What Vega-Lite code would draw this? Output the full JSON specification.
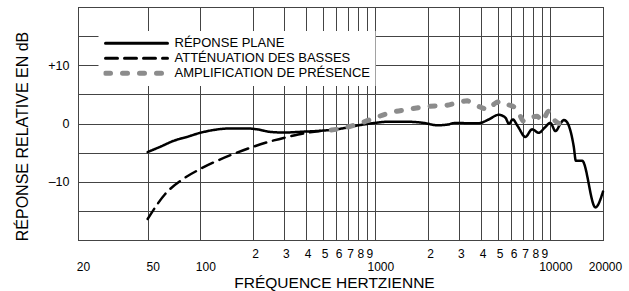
{
  "$schema": "https://vega.github.io/schema/vega-lite/v6.json",
  "width": 525,
  "height": 233,
  "autosize": {"type": "none"},
  "padding": {"left": 78, "top": 7, "right": 26, "bottom": 51},
  "background": "white",
  "config": {"view": {"stroke": "#000", "strokeWidth": 1}, "font": "Liberation Sans"},
  "data": {"values": [
    {"s": "RÉPONSE PLANE", "f": 50, "db": -4.9},
    {"s": "RÉPONSE PLANE", "f": 60, "db": -3.9},
    {"s": "RÉPONSE PLANE", "f": 70, "db": -3.0},
    {"s": "RÉPONSE PLANE", "f": 84, "db": -2.3},
    {"s": "RÉPONSE PLANE", "f": 100, "db": -1.6},
    {"s": "RÉPONSE PLANE", "f": 120, "db": -1.1},
    {"s": "RÉPONSE PLANE", "f": 148, "db": -0.85},
    {"s": "RÉPONSE PLANE", "f": 185, "db": -0.85},
    {"s": "RÉPONSE PLANE", "f": 211, "db": -1.0},
    {"s": "RÉPONSE PLANE", "f": 252, "db": -1.45},
    {"s": "RÉPONSE PLANE", "f": 300, "db": -1.55},
    {"s": "RÉPONSE PLANE", "f": 390, "db": -1.4},
    {"s": "RÉPONSE PLANE", "f": 485, "db": -1.25},
    {"s": "RÉPONSE PLANE", "f": 632, "db": -0.9},
    {"s": "RÉPONSE PLANE", "f": 787, "db": -0.35},
    {"s": "RÉPONSE PLANE", "f": 1000, "db": 0.1},
    {"s": "RÉPONSE PLANE", "f": 1170, "db": 0.3},
    {"s": "RÉPONSE PLANE", "f": 1520, "db": 0.3},
    {"s": "RÉPONSE PLANE", "f": 1890, "db": 0.1},
    {"s": "RÉPONSE PLANE", "f": 2250, "db": -0.3},
    {"s": "RÉPONSE PLANE", "f": 2570, "db": -0.2},
    {"s": "RÉPONSE PLANE", "f": 2870, "db": 0.1},
    {"s": "RÉPONSE PLANE", "f": 3400, "db": 0.05},
    {"s": "RÉPONSE PLANE", "f": 3900, "db": 0.05},
    {"s": "RÉPONSE PLANE", "f": 4450, "db": 0.7},
    {"s": "RÉPONSE PLANE", "f": 5070, "db": 1.5},
    {"s": "RÉPONSE PLANE", "f": 5540, "db": 1.0},
    {"s": "RÉPONSE PLANE", "f": 5800, "db": -0.05},
    {"s": "RÉPONSE PLANE", "f": 6100, "db": 0.7},
    {"s": "RÉPONSE PLANE", "f": 6510, "db": -0.45},
    {"s": "RÉPONSE PLANE", "f": 7200, "db": -2.3},
    {"s": "RÉPONSE PLANE", "f": 7870, "db": -1.0},
    {"s": "RÉPONSE PLANE", "f": 8580, "db": -1.6},
    {"s": "RÉPONSE PLANE", "f": 9300, "db": -0.7},
    {"s": "RÉPONSE PLANE", "f": 10000, "db": 0.1},
    {"s": "RÉPONSE PLANE", "f": 10700, "db": -1.3},
    {"s": "RÉPONSE PLANE", "f": 11500, "db": 0.1},
    {"s": "RÉPONSE PLANE", "f": 11930, "db": 0.6},
    {"s": "RÉPONSE PLANE", "f": 12470, "db": 0.2},
    {"s": "RÉPONSE PLANE", "f": 13600, "db": -3.9},
    {"s": "RÉPONSE PLANE", "f": 14000, "db": -6.4},
    {"s": "RÉPONSE PLANE", "f": 15200, "db": -6.4},
    {"s": "RÉPONSE PLANE", "f": 18100, "db": -14.4},
    {"s": "RÉPONSE PLANE", "f": 20000, "db": -11.7},
    {"s": "ATTÉNUATION DES BASSES", "f": 50, "db": -16.4},
    {"s": "ATTÉNUATION DES BASSES", "f": 63, "db": -12.1},
    {"s": "ATTÉNUATION DES BASSES", "f": 80, "db": -9.5},
    {"s": "ATTÉNUATION DES BASSES", "f": 100, "db": -7.8},
    {"s": "ATTÉNUATION DES BASSES", "f": 125, "db": -6.4},
    {"s": "ATTÉNUATION DES BASSES", "f": 162, "db": -5.0},
    {"s": "ATTÉNUATION DES BASSES", "f": 200, "db": -4.0},
    {"s": "ATTÉNUATION DES BASSES", "f": 263, "db": -2.9},
    {"s": "ATTÉNUATION DES BASSES", "f": 327, "db": -2.2},
    {"s": "ATTÉNUATION DES BASSES", "f": 408, "db": -1.6},
    {"s": "ATTÉNUATION DES BASSES", "f": 485, "db": -1.3},
    {"s": "AMPLIFICATION DE PRÉSENCE", "f": 560, "db": -1.1},
    {"s": "AMPLIFICATION DE PRÉSENCE", "f": 632, "db": -0.9},
    {"s": "AMPLIFICATION DE PRÉSENCE", "f": 803, "db": -0.05},
    {"s": "AMPLIFICATION DE PRÉSENCE", "f": 1000, "db": 1.0},
    {"s": "AMPLIFICATION DE PRÉSENCE", "f": 1274, "db": 2.0},
    {"s": "AMPLIFICATION DE PRÉSENCE", "f": 1519, "db": 2.4},
    {"s": "AMPLIFICATION DE PRÉSENCE", "f": 1850, "db": 2.8},
    {"s": "AMPLIFICATION DE PRÉSENCE", "f": 2026, "db": 2.95},
    {"s": "AMPLIFICATION DE PRÉSENCE", "f": 2510, "db": 3.1},
    {"s": "AMPLIFICATION DE PRÉSENCE", "f": 3062, "db": 3.7},
    {"s": "AMPLIFICATION DE PRÉSENCE", "f": 3350, "db": 3.9},
    {"s": "AMPLIFICATION DE PRÉSENCE", "f": 3494, "db": 3.6},
    {"s": "AMPLIFICATION DE PRÉSENCE", "f": 4074, "db": 2.7},
    {"s": "AMPLIFICATION DE PRÉSENCE", "f": 4380, "db": 2.4},
    {"s": "AMPLIFICATION DE PRÉSENCE", "f": 4854, "db": 3.5},
    {"s": "AMPLIFICATION DE PRÉSENCE", "f": 5300, "db": 3.8},
    {"s": "AMPLIFICATION DE PRÉSENCE", "f": 5780, "db": 3.2},
    {"s": "AMPLIFICATION DE PRÉSENCE", "f": 6290, "db": 2.7},
    {"s": "AMPLIFICATION DE PRÉSENCE", "f": 6560, "db": 2.0},
    {"s": "AMPLIFICATION DE PRÉSENCE", "f": 7045, "db": 0.4},
    {"s": "AMPLIFICATION DE PRÉSENCE", "f": 7700, "db": 1.0},
    {"s": "AMPLIFICATION DE PRÉSENCE", "f": 8400, "db": 1.25},
    {"s": "AMPLIFICATION DE PRÉSENCE", "f": 8960, "db": 0.4},
    {"s": "AMPLIFICATION DE PRÉSENCE", "f": 9790, "db": 2.1},
    {"s": "AMPLIFICATION DE PRÉSENCE", "f": 10690, "db": 0.4},
    {"s": "AMPLIFICATION DE PRÉSENCE", "f": 11200, "db": 0.0}
  ]},
  "encoding": {
    "x": {
      "field": "f", "type": "quantitative",
      "scale": {"type": "log", "domain": [20, 20000], "nice": false},
      "axis": {
        "values": [20, 50, 100, 200, 300, 400, 500, 600, 700, 800, 900, 1000, 2000, 3000, 4000, 5000, 6000, 7000, 8000, 9000, 10000, 20000],
        "labelExpr": "(datum.value < 150 || datum.value == 1000 || datum.value >= 10000) ? ('' + datum.value) : ('' + (datum.value < 1000 ? datum.value / 100 : datum.value / 1000))",
        "labelPadding": {"condition": {"test": "datum.value < 150 || datum.value == 1000 || datum.value >= 10000", "value": 21}, "value": 8},
        "labelOffset": {"condition": {"test": "datum.value < 150 || datum.value == 1000 || datum.value == 10000", "value": 5}, "value": 2},
        "ticks": false, "domain": false, "grid": true, "gridColor": "#444", "gridWidth": 1,
        "labelFontSize": 12, "labelColor": "#000", "labelOverlap": false, "labelBound": false, "labelFlush": false,
        "title": "FRÉQUENCE HERTZIENNE", "titleFontSize": 15.5, "titleFontWeight": "normal", "titleColor": "#000",
        "titleX": 256, "titleY": 47, "titleBaseline": "alphabetic", "titleAlign": "center"
      }
    },
    "y": {
      "field": "db", "type": "quantitative",
      "scale": {"domain": [-20, 20], "nice": false},
      "axis": {
        "values": [-20, -15, -10, -5, 0, 5, 10, 15, 20],
        "labelExpr": "datum.value == 10 ? '+10' : datum.value == 0 ? '0' : datum.value == -10 ? '–10' : ''",
        "ticks": false, "domain": false, "grid": true, "gridColor": "#444", "gridWidth": 1,
        "labelFontSize": 12.5, "labelColor": "#000", "labelPadding": 9,
        "title": "RÉPONSE RELATIVE EN dB", "titleFontSize": 16, "titleFontWeight": "normal", "titleColor": "#000",
        "titleX": -51, "titleY": 129, "titleBaseline": "alphabetic", "titleAlign": "center", "titleAngle": 270
      }
    },
    "color": {
      "field": "s", "type": "nominal",
      "scale": {"domain": ["RÉPONSE PLANE", "ATTÉNUATION DES BASSES", "AMPLIFICATION DE PRÉSENCE"], "range": ["#000000", "#000000", "#8c8c8c"]},
      "legend": {
        "orient": "none", "legendX": 20.5, "legendY": 24, "title": null,
        "fillColor": "white", "padding": 5, "clipHeight": 14.7, "rowPadding": 0,
        "symbolType": "stroke", "symbolSize": 3844, "symbolStrokeWidth": 3, "symbolOffset": 26.5,
        "labelFontSize": 13, "labelColor": "#000", "labelOffset": 31.5, "labelLimit": 0,
        "encode": {"symbols": {"update": {"strokeWidth": {"signal": "datum.value === 'AMPLIFICATION DE PRÉSENCE' ? 5 : 3"}, "strokeCap": {"value": "round"}}}}
      }
    },
    "strokeDash": {
      "field": "s", "type": "nominal",
      "scale": {"domain": ["RÉPONSE PLANE", "ATTÉNUATION DES BASSES", "AMPLIFICATION DE PRÉSENCE"], "range": [[1, 0], [12, 7], [5, 12]]},
      "legend": {
        "orient": "none", "legendX": 20.5, "legendY": 24, "title": null,
        "fillColor": "white", "padding": 5, "clipHeight": 14.7, "rowPadding": 0,
        "symbolType": "stroke", "symbolSize": 3844, "symbolStrokeWidth": 3, "symbolOffset": 26.5,
        "labelFontSize": 13, "labelColor": "#000", "labelOffset": 31.5, "labelLimit": 0,
        "encode": {"symbols": {"update": {"strokeWidth": {"signal": "datum.value === 'AMPLIFICATION DE PRÉSENCE' ? 5 : 3"}, "strokeCap": {"value": "round"}}}}
      }
    }
  },
  "layer": [
    {
      "transform": [{"filter": "datum.s !== 'AMPLIFICATION DE PRÉSENCE'"}],
      "mark": {"type": "line", "strokeCap": "round", "strokeJoin": "round", "interpolate": "monotone", "strokeWidth": 2.5}
    },
    {
      "transform": [{"filter": "datum.s === 'AMPLIFICATION DE PRÉSENCE'"}],
      "mark": {"type": "line", "strokeCap": "round", "strokeJoin": "round", "interpolate": "monotone", "strokeWidth": 5}
    }
  ]
}
